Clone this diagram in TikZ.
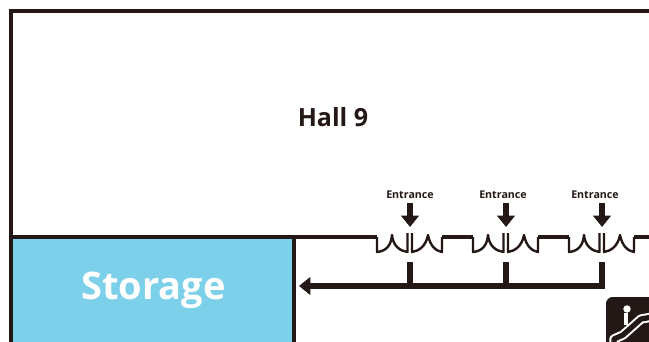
\documentclass[tikz,border=0pt]{standalone}
\usepackage{fontspec}
\setmainfont{Open Sans}
\usetikzlibrary{arrows.meta}
\definecolor{wallcol}{HTML}{231815}
\definecolor{storecol}{HTML}{7DD0EA}
\tikzset{
    every node/.style={text=wallcol, font=\bfseries},
    wall/.style={draw=wallcol, line width=2.7pt},
    inner wall/.style={draw=wallcol, line width=2.4pt},
    door/.style={draw=wallcol, line width=1.8pt},
    feed/.style={draw=wallcol, line width=3.9pt},
    gate/.style={draw=wallcol, line width=3.9pt,
    	-{Triangle[length=8.5pt, width=13pt]}}
}
\begin{document}
\begin{tikzpicture}[x=0.75pt, y=-0.75pt]
  \useasboundingbox (0,0) rectangle (649,342);
  \clip (0,0) rectangle (649,342);

  \fill [white] (0,0) rectangle (649,342);
  \fill [storecol] (11,237) rectangle (294,342);

  \node (hall) at (333,117) {\fontsize{18.8}{19}\selectfont Hall 9};
  \node (store) [text=white] at (153.5,290) {\fontsize{28.5}{29}\selectfont Storage};

  \coordinate (frameA) at (11,342);
  \coordinate (frameB) at (11,11);
  \coordinate (frameC) at (649,11);
  \draw [wall] (frameA) -- (frameB) -- (frameC);

  \coordinate (storeA) at (11,237);
  \coordinate (storeB) at (377,237);
  \coordinate (storeC) at (294,237);
  \coordinate (storeD) at (294,342);
  \draw [inner wall] (storeA) -- (storeB);
  \draw [wall] (storeC) -- (storeD);

  % three double doors, each with its label and arrows
  \foreach \n/\cx/\tx in {a/410/410, b/506/503, c/602/595} {
    \node (label\n) at (\tx,195) {\fontsize{8}{8}\selectfont Entrance};
    \coordinate (in\n) at (\cx,203);
    \coordinate (door\n) at (\cx,227);
    \draw [gate] (in\n) -- (door\n);

    \draw [door, line join=round] (\cx-33,237) -- (\cx-33,252)
      .. controls (\cx-24,251) and (\cx-19,246) .. (\cx-18,235)
      .. controls (\cx-17,246) and (\cx-10,251) .. (\cx-2.5,252)
      -- (\cx-2.5,233) (\cx+2,233) -- (\cx+2,252)
      .. controls (\cx+9,251) and (\cx+16,246) .. (\cx+18,235)
      .. controls (\cx+20,246) and (\cx+26,251) .. (\cx+32,252)
      -- (\cx+32,237);
    \coordinate (stem\n) at (\cx,262);
    \coordinate (foot\n) at (\cx,286);
    \draw [feed] (stem\n) -- (foot\n);
  }
  \coordinate (wallB) at (442,237);
  \coordinate (wallC) at (473,237);
  \coordinate (wallD) at (538,237);
  \coordinate (wallE) at (569,237);
  \coordinate (wallF) at (634,237);
  \coordinate (wallG) at (649,237);
  \draw [inner wall] (wallB) -- (wallC) (wallD) -- (wallE) (wallF) -- (wallG);

  \coordinate (corner) at (605,286);
  \coordinate (exit) at (299,286);
  \draw [gate] (corner) -- (exit);

  % escalator sign
  \fill [wallcol, rounded corners=5pt] (606,297) rectangle (670,370);
  \fill [white] (627,309) circle (2.8pt);
  \draw [white, line width=2.4pt] (626,313) -- (626,325);
  \draw [white, line width=7pt, line join=round, line cap=round]
    (614,347) -- (614,339) -- (623,335) -- (641,319) -- (658,316);
  \draw [wallcol, line width=4pt, line join=round, line cap=round]
    (614,347) -- (614,339) -- (623,335) -- (641,319) -- (658,316);
\end{tikzpicture}
\end{document}
